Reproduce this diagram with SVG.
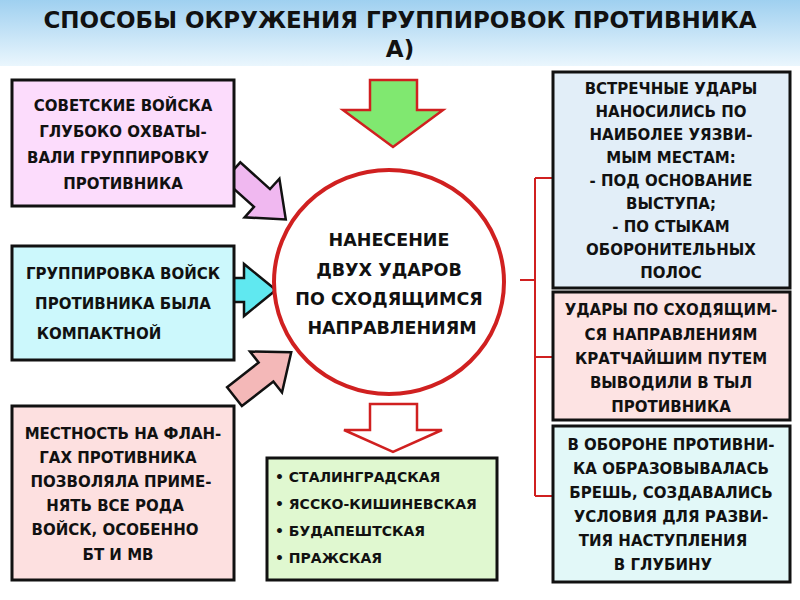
<svg xmlns="http://www.w3.org/2000/svg" width="800" height="600" viewBox="0 0 800 600">
<defs>
<linearGradient id="bg" x1="0" y1="0" x2="0" y2="1"><stop offset="0" stop-color="#9fd0f0"/><stop offset="1" stop-color="#eaf6fd"/></linearGradient>
<polygon id="arr" points="0,-12 -40,-12 -40,12 0,12 0,26 32,0 0,-26"/>
</defs>
<style>
text{font-family:"DejaVu Sans","Liberation Sans",sans-serif;font-weight:bold;fill:#111;text-anchor:middle}
.t{font-size:15px}
.c{font-size:17.5px}
.box{stroke:#111;stroke-width:3}
.arr{stroke:#111;stroke-width:2.5}
.con{stroke:#d02020;stroke-width:2;fill:none}
</style>
<rect width="800" height="600" fill="#fff"/>
<rect width="800" height="66" fill="url(#bg)"/>
<text x="400" y="28" font-size="23">СПОСОБЫ ОКРУЖЕНИЯ ГРУППИРОВОК ПРОТИВНИКА</text>
<text x="400" y="57" font-size="23">А)</text>
<g id="connectors">
<path class="con" d="M520,280 H535 M535,178 V496 M535,178 H553 M535,357 H553 M535,496 H553"/>
<polygon points="370,80 417,80 417,110 443,110 393,147 343,110 370,110" fill="#80e870" stroke="#d02020" stroke-width="2.5"/>
<polygon points="370,404 417,404 417,430 442,430 393,452 344,430 370,430" fill="#fff" stroke="#d02020" stroke-width="2.5"/>
<use href="#arr" transform="translate(262,198) rotate(42)" fill="#f0b8f0" class="arr"/>
<use href="#arr" transform="translate(244,290)" fill="#60e8f0" class="arr"/>
<use href="#arr" transform="translate(266,372) rotate(-38)" fill="#f4b8b8" class="arr"/>
</g>
<g id="center">
<ellipse cx="389" cy="282" rx="115" ry="112" fill="#fff" stroke="#d02020" stroke-width="4"/>
<text class="c" x="389" y="246">НАНЕСЕНИЕ</text>
<text class="c" x="389" y="276">ДВУХ УДАРОВ</text>
<text class="c" x="389" y="305">ПО СХОДЯЩИМСЯ</text>
<text class="c" x="392" y="334">НАПРАВЛЕНИЯМ</text>
</g>
<g id="left1">
<rect class="box" x="12" y="80" width="222" height="126" fill="#fcdcfc"/>
<text class="t" x="123" y="111">СОВЕТСКИЕ ВОЙСКА</text>
<text class="t" x="123" y="137">ГЛУБОКО ОХВАТЫ-</text>
<text class="t" x="118" y="163">ВАЛИ ГРУППИРОВКУ</text>
<text class="t" x="123" y="189">ПРОТИВНИКА</text>
</g>
<g id="left2">
<rect class="box" x="12" y="246" width="222" height="114" fill="#ccf8fc"/>
<text class="t" x="123" y="279">ГРУППИРОВКА ВОЙСК</text>
<text class="t" x="123" y="309">ПРОТИВНИКА БЫЛА</text>
<text class="t" x="99" y="339">КОМПАКТНОЙ</text>
</g>
<g id="left3">
<rect class="box" x="12" y="406" width="222" height="174" fill="#fde0e0"/>
<text class="t" x="123" y="439">МЕСТНОСТЬ НА ФЛАН-</text>
<text class="t" x="118" y="463">ГАХ ПРОТИВНИКА</text>
<text class="t" x="121" y="487">ПОЗВОЛЯЛА ПРИМЕ-</text>
<text class="t" x="115" y="511">НЯТЬ ВСЕ РОДА</text>
<text class="t" x="115" y="535">ВОЙСК, ОСОБЕННО</text>
<text class="t" x="118" y="560">БТ И МВ</text>
</g>
<g id="list">
<rect class="box" x="267" y="458" width="230" height="122" fill="#e0f8d0" stroke-width="2"/>
<text class="t" x="275" y="482" style="text-anchor:start;font-size:14px">• СТАЛИНГРАДСКАЯ</text>
<text class="t" x="275" y="509" style="text-anchor:start;font-size:14px">• ЯССКО-КИШИНЕВСКАЯ</text>
<text class="t" x="275" y="536" style="text-anchor:start;font-size:14px">• БУДАПЕШТСКАЯ</text>
<text class="t" x="275" y="563" style="text-anchor:start;font-size:14px">• ПРАЖСКАЯ</text>
</g>
<g id="right1">
<rect class="box" x="553" y="72" width="237" height="216" fill="#e2eef8"/>
<text class="t" x="671" y="94">ВСТРЕЧНЫЕ УДАРЫ</text>
<text class="t" x="671" y="117">НАНОСИЛИСЬ ПО</text>
<text class="t" x="671" y="140">НАИБОЛЕЕ УЯЗВИ-</text>
<text class="t" x="671" y="163">МЫМ МЕСТАМ:</text>
<text class="t" x="671" y="186">- ПОД ОСНОВАНИЕ</text>
<text class="t" x="671" y="209">ВЫСТУПА;</text>
<text class="t" x="671" y="232">- ПО СТЫКАМ</text>
<text class="t" x="671" y="255">ОБОРОНИТЕЛЬНЫХ</text>
<text class="t" x="671" y="278">ПОЛОС</text>
</g>
<g id="right2">
<rect class="box" x="553" y="292" width="237" height="128" fill="#fde3e3"/>
<text class="t" x="671" y="315">УДАРЫ ПО СХОДЯЩИМ-</text>
<text class="t" x="671" y="340">СЯ  НАПРАВЛЕНИЯМ</text>
<text class="t" x="671" y="364">КРАТЧАЙШИМ ПУТЕМ</text>
<text class="t" x="671" y="388">ВЫВОДИЛИ В ТЫЛ</text>
<text class="t" x="671" y="412">ПРОТИВНИКА</text>
</g>
<g id="right3">
<rect class="box" x="553" y="426" width="237" height="156" fill="#e2f8f8"/>
<text class="t" x="671" y="450">В ОБОРОНЕ ПРОТИВНИ-</text>
<text class="t" x="671" y="474">КА ОБРАЗОВЫВАЛАСЬ</text>
<text class="t" x="671" y="498">БРЕШЬ, СОЗДАВАЛИСЬ</text>
<text class="t" x="671" y="522">УСЛОВИЯ ДЛЯ РАЗВИ-</text>
<text class="t" x="663" y="546">ТИЯ НАСТУПЛЕНИЯ</text>
<text class="t" x="663" y="570">В ГЛУБИНУ</text>
</g>
</svg>
